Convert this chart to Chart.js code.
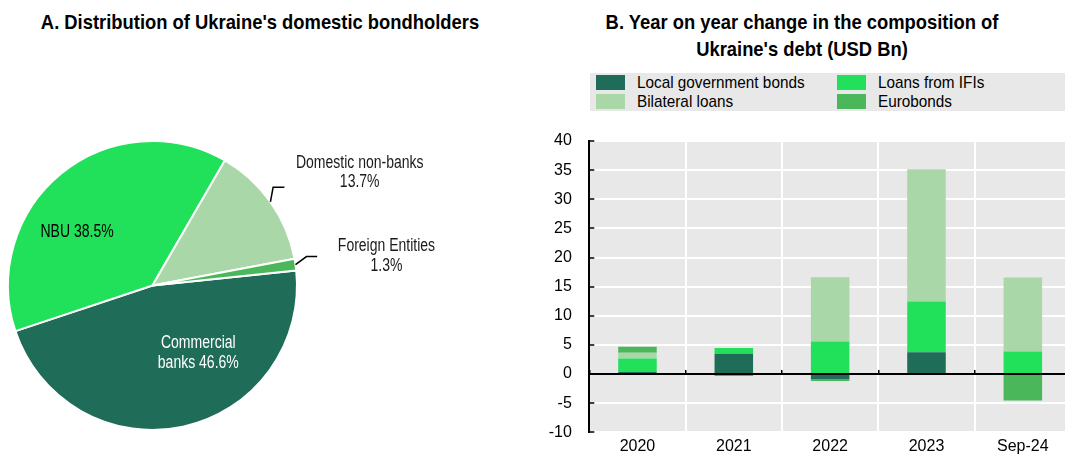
<!DOCTYPE html>
<html>
<head>
<meta charset="utf-8">
<title>Ukraine debt</title>
<script src="https://cdn.jsdelivr.net/npm/chart.js@4.4.1/dist/chart.umd.min.js"></script>
<style>
  html, body { margin: 0; padding: 0; background: #fff; overflow: hidden; width: 1065px; height: 455px; }
  #wrap { position: relative; width: 1065px; height: 455px; overflow: hidden; }
  .title { position: absolute; font-family: 'Liberation Sans', Arial, sans-serif;
           font-weight: bold; font-size: 21px; color: #000; text-align: center; line-height: 26.7px;
           white-space: nowrap; transform: scaleX(0.875); transform-origin: center top; }
  #titleA { left: 0; width: 520px; top: 9.4px; }
  #titleB { left: 540px; width: 524px; top: 9.4px; }
  #pieBox { position: absolute; left: 0; top: 0; }
  #barBox { position: absolute; left: 530px; top: 0; }
  #legend { position: absolute; left: 590px; top: 73px; width: 480px; height: 38px; background: #e8e8e8;
            font-family: 'Liberation Sans', Arial, sans-serif; font-size: 17px; color: #000; }
  .item { position: absolute; height: 19px; line-height: 17px; white-space: nowrap; }
  .swatch { position: absolute; left: 0; top: 1px; width: 29px; height: 15px; }
  .label { position: absolute; left: 41px; top: 0; transform: scaleX(0.9); transform-origin: left top; }
</style>
</head>
<body>
<div id="wrap">
  <div class="title" id="titleA">A. Distribution of Ukraine's domestic bondholders</div>
  <div class="title" id="titleB">B. Year on year change in the composition of<br>Ukraine's debt (USD Bn)</div>
  <canvas id="pieBox" width="530" height="455"></canvas>
  <div id="legend"></div>
  <canvas id="barBox" width="541" height="455"></canvas>
</div>
<script>
// Panel A: holders of domestic government bonds (% of total)
const holderLabels = ['Commercial banks', 'NBU', 'Domestic non-banks', 'Foreign Entities'];
const holderShares = [46.6, 38.5, 13.7, 1.3];

// Panel B: year-on-year change in debt by instrument (USD bn)
const periods = ['2020', '2021', '2022', '2023', 'Sep-24'];
const localBonds = [0.35, 3.45, -0.9, 3.75, 0];
const ifiLoans = [2.3, 1.0, 5.6, 8.7, 3.85];
const bilateralLoans = [1.0, 0, 11.0, 22.7, 12.7];
const eurobonds = [1.05, -0.35, -0.3, 0, -4.55];
const yTicks = { min: -10, max: 40, step: 5 };

const FONT = "'Liberation Sans', Arial, sans-serif";
const C_DARK = '#1f6c58', C_BRIGHT = '#21e05a', C_LIGHT = '#a9d7a7', C_MID = '#4ab85a';

// Slice labels: inside ones sit at an offset from the centre (in radii);
// outside ones get an elbow leader (rim -> elbow -> short run) and a two-line caption.
const sliceLabelStyle = [
  { inside: true, dx: 0.317, dy: 0.471, color: '#fff', lines: ['Commercial', 'banks {v}%'] },
  { inside: true, dx: -0.522, dy: -0.366, color: '#000', lines: ['NBU {v}%'] },
  { inside: false, elbow: [2.7, -14.7], run: 11.3, textDx: 75.3, lineYs: [-24.3, -5], lines: ['Domestic non-banks', '{v}%'] },
  { inside: false, elbow: [11, -8], run: 10.7, textDx: 69.3, lineYs: [-10, 9.7], lines: ['Foreign Entities', '{v}%'] }
];

// slightly condensed lettering for the slice captions
function drawNarrowText(ctx, text, x, y) {
  ctx.save();
  ctx.translate(x, y);
  ctx.scale(0.8, 1);
  ctx.fillText(text, 0, 0);
  ctx.restore();
}

const sliceLabels = {
  id: 'sliceLabels',
  afterDatasetsDraw(chart) {
    const { ctx } = chart;
    const meta = chart.getDatasetMeta(0);
    const values = chart.data.datasets[0].data;
    ctx.save();
    ctx.font = '17.5px ' + FONT;
    ctx.textAlign = 'center';
    ctx.textBaseline = 'middle';
    meta.data.forEach((arc, i) => {
      const st = sliceLabelStyle[i];
      const p = arc.getProps(['x', 'y', 'startAngle', 'endAngle', 'outerRadius'], true);
      const lines = st.lines.map(s => s.replace('{v}', values[i].toFixed(1)));
      if (st.inside) {
        const cx = p.x + st.dx * p.outerRadius;
        const cy = p.y + st.dy * p.outerRadius;
        ctx.fillStyle = st.color;
        lines.forEach((t, k) => drawNarrowText(ctx, t, cx, cy + (k - (lines.length - 1) / 2) * 20));
      } else {
        const mid = (p.startAngle + p.endAngle) / 2;
        const x0 = p.x + Math.cos(mid) * p.outerRadius;
        const y0 = p.y + Math.sin(mid) * p.outerRadius;
        const x1 = x0 + st.elbow[0];
        const y1 = y0 + st.elbow[1];
        const x2 = x1 + st.run;
        ctx.strokeStyle = '#000';
        ctx.lineWidth = 1.5;
        ctx.beginPath();
        ctx.moveTo(x0, y0);
        ctx.lineTo(x1, y1);
        ctx.lineTo(x2, y1);
        ctx.stroke();
        ctx.fillStyle = '#1a1a1a';
        lines.forEach((t, k) => drawNarrowText(ctx, t, x2 + st.textDx, y1 + st.lineYs[k]));
      }
    });
    ctx.restore();
  }
};

new Chart(document.getElementById('pieBox'), {
  type: 'pie',
  data: {
    labels: holderLabels,
    datasets: [{ data: holderShares, backgroundColor: [C_DARK, C_BRIGHT, C_LIGHT, C_MID], borderColor: '#fff', borderWidth: 2 }]
  },
  options: {
    responsive: false, animation: false, rotation: 84,
    layout: { padding: { left: 7, top: 140, right: 232, bottom: 24 } },
    plugins: { legend: { display: false }, tooltip: { enabled: false } }
  },
  plugins: [sliceLabels]
});

// Grey panel behind the bars
const plotBackground = {
  id: 'plotBackground',
  beforeDraw(chart) {
    const { ctx, chartArea: a } = chart;
    ctx.save();
    ctx.fillStyle = '#e8e8e8';
    ctx.fillRect(a.left, a.top, a.right - a.left, a.bottom - a.top);
    ctx.restore();
  }
};

const tickFont = { family: FONT, size: 16 };

const barChart = new Chart(document.getElementById('barBox'), {
  type: 'bar',
  data: {
    labels: periods,
    datasets: [
      { label: 'Local government bonds', data: localBonds, backgroundColor: C_DARK },
      { label: 'Loans from IFIs', data: ifiLoans, backgroundColor: C_BRIGHT },
      { label: 'Bilateral loans', data: bilateralLoans, backgroundColor: C_LIGHT },
      { label: 'Eurobonds', data: eurobonds, backgroundColor: C_MID }
    ]
  },
  options: {
    responsive: false, animation: false,
    barPercentage: 0.4, categoryPercentage: 1,
    layout: { padding: { top: 141, left: 0, right: 0, bottom: 0 } },
    plugins: { legend: { display: false }, tooltip: { enabled: false } },
    scales: {
      x: {
        stacked: true, offset: true,
        grid: { color: '#fff', lineWidth: 2, drawTicks: false, offset: true },
        border: { display: false },
        ticks: { font: tickFont, color: '#000', padding: 5, maxRotation: 0 },
        afterFit(s) { s.height = 22.7; }
      },
      // zero line with small inward tick marks between categories
      x2: {
        type: 'category', position: { y: 0 }, offset: true, z: 1,
        grid: { drawOnChartArea: false, offset: true, tickLength: -5, color: '#000', lineWidth: 1.5 },
        border: { color: '#000', width: 2 },
        ticks: { display: false },
        afterFit(s) { s.height = 0; }
      },
      y: {
        stacked: true, min: yTicks.min, max: yTicks.max,
        ticks: { stepSize: yTicks.step, font: tickFont, color: '#000', padding: 22.5 },
        grid: { color: '#fff', lineWidth: 2, tickColor: '#000', tickLength: -5, tickWidth: 1.5 },
        border: { color: '#000', width: 2 },
        afterFit(s) { s.width = 59.3; s.paddingTop = 0; s.paddingBottom = 0; }
      }
    }
  },
  plugins: [plotBackground]
});

// Two-column legend built from the bar datasets
const legendEl = document.getElementById('legend');
const colX = [6, 247];
const rowY = [1, 20];
barChart.data.datasets.forEach((ds, i) => {
  const item = document.createElement('div');
  item.className = 'item';
  item.style.left = colX[i % 2] + 'px';
  item.style.top = rowY[Math.floor(i / 2)] + 'px';
  const sw = document.createElement('div');
  sw.className = 'swatch';
  sw.style.background = ds.backgroundColor;
  const lb = document.createElement('div');
  lb.className = 'label';
  lb.textContent = ds.label;
  item.appendChild(sw);
  item.appendChild(lb);
  legendEl.appendChild(item);
});
</script>
</body>
</html>
